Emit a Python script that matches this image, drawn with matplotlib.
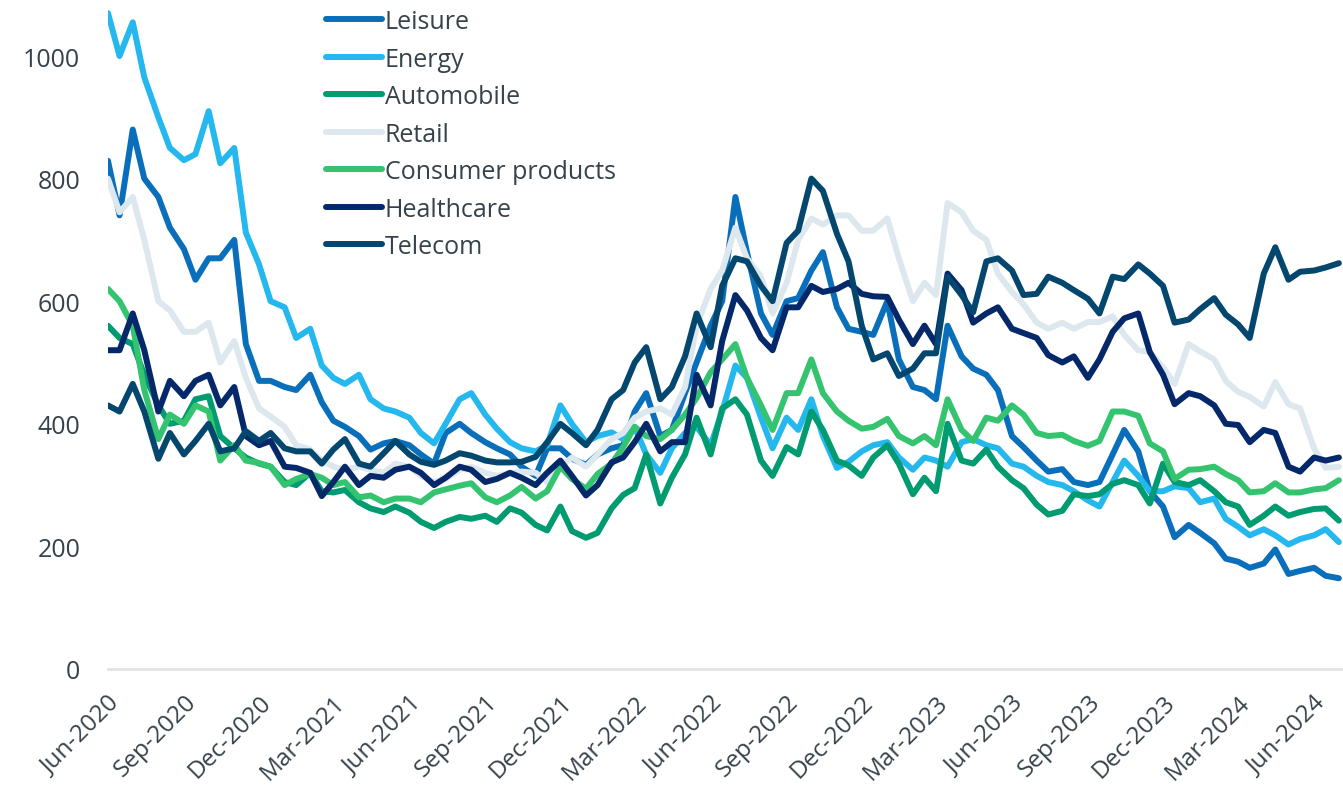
import matplotlib
matplotlib.use("Agg")
import matplotlib.pyplot as plt
import matplotlib.dates as mdates
import pandas as pd

plt.rcParams['font.family'] = ['Open Sans', 'DejaVu Sans']

# semi-monthly readings, Jun-2020 .. Jul-2024
dates = pd.date_range('2020-06-01', periods=99, freq='SMS')

leisure = [829, 740, 880, 800, 770, 720, 685, 635, 670, 670,
           700, 530, 470, 470, 460, 455, 480, 435, 405, 395,
           380, 358, 368, 372, 365, 350, 335, 385, 400, 385,
           370, 360, 350, 330, 315, 360, 360, 343, 333, 350,
           360, 365, 420, 450, 380, 390, 450, 500, 560, 600,
           770, 680, 580, 545, 600, 605, 650, 680, 590, 555,
           550, 545, 600, 505, 460, 455, 440, 560, 510, 490,
           480, 455, 380, 362, 340, 322, 326, 305, 300, 305,
           350, 390, 355, 290, 265, 215, 235, 222, 205, 180,
           175, 165, 172, 195, 155, 160, 165, 152, 148]

energy = [1070, 1000, 1055, 965, 900, 850, 830, 840, 910, 825,
          850, 712, 660, 600, 590, 540, 555, 495, 475, 465,
          480, 440, 425, 420, 410, 385, 368, 400, 440, 450,
          415, 392, 370, 360, 355, 365, 430, 400, 370, 380,
          386, 375, 395, 350, 320, 360, 385, 395, 365, 420,
          495, 475, 410, 360, 410, 390, 440, 380, 328, 338,
          355, 365, 370, 345, 325, 345, 340, 330, 370, 375,
          365, 360, 335, 330, 315, 305, 300, 290, 275, 265,
          305, 340, 315, 290, 290, 298, 295, 272, 278, 245,
          232, 218, 228, 218, 203, 212, 218, 228, 207]

automobile = [560, 540, 530, 480, 430, 400, 405, 440, 445, 380,
              360, 345, 335, 330, 305, 300, 320, 290, 288, 292,
              272, 262, 256, 265, 255, 240, 230, 240, 248, 245,
              250, 240, 262, 255, 235, 226, 265, 225, 214, 222,
              262, 284, 295, 350, 270, 312, 350, 410, 350, 425,
              440, 415, 340, 315, 362, 350, 420, 390, 340, 332,
              315, 345, 365, 335, 285, 312, 290, 400, 340, 335,
              358, 330, 308, 295, 268, 252, 258, 285, 282, 285,
              302, 308, 300, 270, 335, 305, 300, 308, 290, 272,
              265, 235, 250, 265, 250, 256, 261, 262, 242]

retail = [800, 745, 770, 700, 600, 585, 550, 550, 565, 500,
          535, 475, 425, 412, 395, 365, 358, 340, 330, 325,
          330, 325, 320, 335, 330, 315, 305, 310, 325, 330,
          320, 315, 320, 322, 320, 305, 330, 345, 330, 350,
          375, 385, 410, 420, 425, 415, 460, 560, 620, 650,
          720, 670, 640, 580, 630, 700, 735, 725, 740, 740,
          715, 715, 735, 670, 600, 630, 610, 760, 745, 715,
          700, 645, 615, 595, 565, 555, 565, 555, 566, 566,
          575, 545, 520, 517, 492, 465, 530, 518, 505, 470,
          452, 444, 428, 468, 432, 425, 360, 328, 330]

consumer = [620, 600, 560, 455, 375, 415, 400, 430, 420, 340,
            365, 340, 336, 330, 300, 310, 318, 312, 300, 305,
            280, 283, 272, 278, 278, 272, 288, 293, 299, 303,
            280, 272, 283, 297, 278, 290, 330, 310, 294, 318,
            335, 362, 395, 380, 375, 390, 415, 442, 484, 505,
            530, 475, 430, 390, 450, 450, 505, 450, 420, 405,
            392, 395, 408, 380, 368, 380, 365, 440, 390, 372,
            410, 405, 430, 415, 385, 380, 382, 372, 364, 372,
            420, 420, 413, 368, 355, 310, 325, 326, 330, 318,
            308, 288, 290, 303, 288, 288, 293, 295, 308]

healthcare = [520, 520, 580, 520, 420, 470, 445, 470, 480, 430,
              460, 380, 365, 372, 330, 328, 320, 282, 305, 330,
              300, 315, 312, 325, 330, 320, 300, 312, 330, 325,
              305, 310, 320, 312, 300, 320, 340, 315, 283, 300,
              337, 345, 370, 400, 355, 370, 370, 480, 430, 535,
              610, 585, 540, 520, 590, 590, 625, 615, 620, 630,
              612, 608, 607, 570, 530, 560, 530, 645, 618, 565,
              580, 590, 555, 548, 540, 512, 500, 510, 475, 505,
              550, 572, 580, 517, 480, 432, 450, 445, 430, 400,
              398, 370, 390, 385, 330, 322, 345, 340, 345]

telecom = [430, 420, 465, 420, 343, 385, 350, 372, 400, 355,
           360, 388, 372, 385, 360, 355, 355, 335, 358, 375,
           335, 330, 352, 372, 350, 338, 333, 340, 352, 348,
           340, 337, 337, 338, 346, 370, 400, 385, 365, 390,
           440, 455, 500, 525, 440, 460, 510, 580, 525, 625,
           670, 665, 625, 600, 695, 715, 800, 780, 710, 665,
           560, 505, 515, 478, 490, 515, 515, 640, 610, 582,
           665, 670, 650, 610, 612, 640, 630, 618, 604, 580,
           640, 636, 660, 645, 625, 565, 570, 587, 605, 578,
           562, 540, 645, 688, 635, 648, 650, 655, 662]

names = ['Leisure', 'Energy', 'Automobile', 'Retail',
         'Consumer products', 'Healthcare', 'Telecom']
series = [leisure, energy, automobile, retail, consumer, healthcare, telecom]
colors = ['#0a6fba', '#25b8ef', '#009b70', '#dde7ee',
          '#34c470', '#05286a', '#03476f']

fig = plt.figure(figsize=(13.43, 8.04), dpi=100)
ax = fig.add_axes([0.0804, 0.1667, 0.9196, 0.8333])

for name, vals, c in zip(names, series, colors):
    ax.plot(dates, vals, color=c, lw=4.3, label=name,
            solid_capstyle='round', solid_joinstyle='round')

ax.set_ylim(0, 1093)
ax.set_xlim(pd.Timestamp('2020-06-01'), pd.Timestamp('2024-07-06'))
ax.set_yticks(range(0, 1001, 200))

ax.xaxis.set_major_locator(mdates.MonthLocator(bymonth=[3, 6, 9, 12]))
ax.xaxis.set_major_formatter(mdates.DateFormatter('%b-%Y'))

txt = '#36424a'
ax.tick_params(axis='both', length=0, labelsize=17.5, colors=txt)
ax.tick_params(axis='y', labelsize=18, pad=20)
ax.tick_params(axis='x', pad=15)
for lab in ax.get_xticklabels():
    lab.set_rotation(45)
    lab.set_ha('right')
    lab.set_va('top')
    lab.set_rotation_mode('anchor')

for s in ['top', 'right', 'left']:
    ax.spines[s].set_visible(False)
ax.spines['bottom'].set_color('#dfe4e6')
ax.spines['bottom'].set_linewidth(2)

leg = ax.legend(loc='upper left', bbox_to_anchor=(0.1765, 0.985),
                frameon=False, fontsize=18, handlelength=2.25,
                handletextpad=0.1, labelspacing=0.5, borderpad=0,
                borderaxespad=0)
for t in leg.get_texts():
    t.set_color(txt)
for h in leg.get_lines():
    h.set_linewidth(4.3)

fig.savefig('out.png', dpi=100)
